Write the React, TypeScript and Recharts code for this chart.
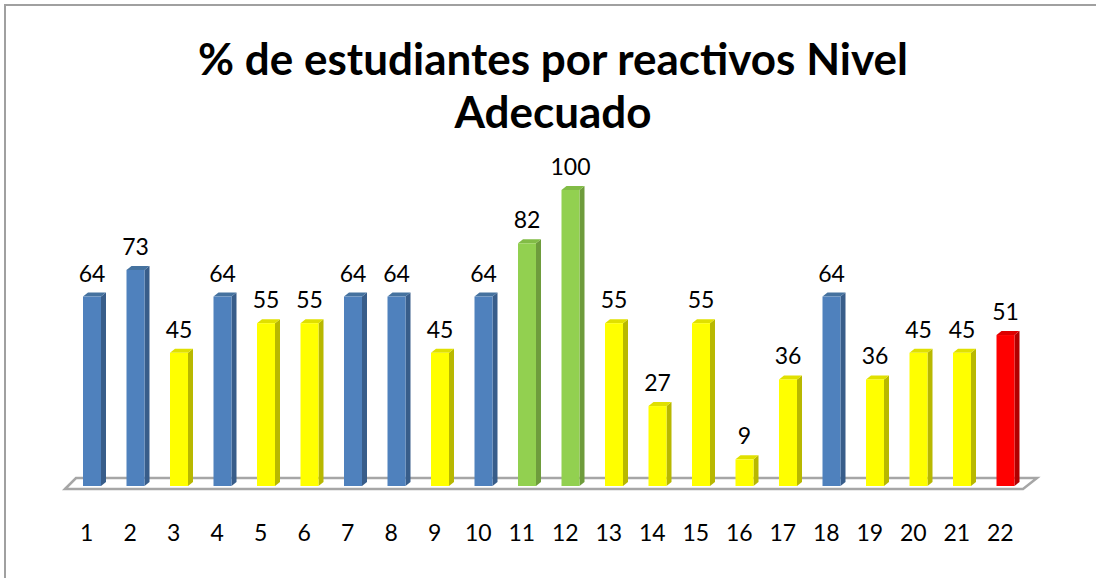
import { Bar, BarChart, Cell, Customized, LabelList, XAxis, YAxis } from "recharts";

const reactivos = ["1", "2", "3", "4", "5", "6", "7", "8", "9", "10", "11", "12", "13", "14", "15", "16", "17", "18", "19", "20", "21", "22"];
const porcentajes = [64, 73, 45, 64, 55, 55, 64, 64, 45, 64, 82, 100, 55, 27, 55, 9, 36, 64, 36, 45, 45, 51];
// color group per bar: b = blue, y = yellow, g = green, r = red
const grupos = ["b", "b", "y", "b", "y", "y", "b", "b", "y", "b", "g", "g", "y", "y", "y", "y", "y", "b", "y", "y", "y", "r"];

const COLORES: Record<string, { front: string; side: string; top: string }> = {
  b: { front: "#4F81BD", side: "#385D8A", top: "#45729F" },
  y: { front: "#FFFF00", side: "#B8B800", top: "#E0E000" },
  g: { front: "#92D050", side: "#6E9C3C", top: "#82BC46" },
  r: { front: "#FF0000", side: "#B00000", top: "#DD0000" },
};

const data = reactivos.map((name, i) => ({ name, value: porcentajes[i], grupo: grupos[i] }));

const W = 1096;
const H = 578;
const MARGIN = { top: 190, right: 69, bottom: 32, left: 70 };
const X_AXIS_H = 60;
const DEPTH_X = 5;
const DEPTH_Y = 4;
const FONT = "Lato, sans-serif";

// 3D-looking column: front face, right side and top face
const Bar3D = (props: any) => {
  const { x, y, width, height, payload } = props;
  const c = COLORES[payload.grupo];
  const r = x + width;
  const b = y + height;
  return (
    <g>
      <polygon points={`${r},${y} ${r + DEPTH_X},${y - DEPTH_Y} ${r + DEPTH_X},${b - DEPTH_Y} ${r},${b}`} fill={c.side} />
      <polygon points={`${x},${y} ${x + DEPTH_X},${y - DEPTH_Y} ${r + DEPTH_X},${y - DEPTH_Y} ${r},${y}`} fill={c.top} />
      <rect x={x} y={y} width={width} height={height} fill={c.front} />
    </g>
  );
};

// floor plate under the columns
const Floor = () => {
  const bottom = H - MARGIN.bottom - X_AXIS_H;
  const l = MARGIN.left;
  const r = W - MARGIN.right;
  const pts = `${l - 5},${bottom + 3} ${l + 6},${bottom - 8} ${r + 10},${bottom - 8} ${r - 4},${bottom + 3}`;
  return <polygon points={pts} fill="#FFFFFF" stroke="#A6A6A6" strokeWidth={2.5} />;
};

export default function App() {
  return (
    <div style={{ position: "absolute", left: 0, top: 0, width: W, height: H, background: "#fff", overflow: "hidden" }}>
      <div
        style={{
          position: "absolute",
          left: 4,
          top: 4,
          width: W + 20,
          height: H + 20,
          borderLeft: "2px solid #A0A0A0",
          borderTop: "2px solid #A0A0A0",
        }}
      />
      <div
        style={{
          position: "absolute",
          left: 0,
          top: 32,
          width: W + 10,
          textAlign: "center",
          fontFamily: FONT,
          fontWeight: 700,
          fontSize: 44,
          lineHeight: "53px",
          color: "#000",
        }}
      >
        % de estudiantes por reactivos Nivel
        <br />
        Adecuado
      </div>
      <div style={{ position: "absolute", left: 0, top: 0 }}>
        <BarChart width={W} height={H} data={data} margin={MARGIN} barSize={18}>
          <Customized component={<Floor />} />
          <XAxis
            dataKey="name"
            axisLine={false}
            tickLine={false}
            tickSize={0}
            tickMargin={39}
            height={X_AXIS_H}
            interval={0}
            tick={{ fill: "#000", fontSize: 23, fontFamily: FONT, dx: -5 }}
          />
          <YAxis hide domain={[0, 100]} />
          <Bar dataKey="value" shape={<Bar3D />} isAnimationActive={false}>
            {data.map((d) => (
              <Cell key={d.name} fill={COLORES[d.grupo].front} />
            ))}
            <LabelList dataKey="value" position="top" offset={15} fill="#000" fontSize={23} fontFamily={FONT} />
          </Bar>
        </BarChart>
      </div>
    </div>
  );
}
